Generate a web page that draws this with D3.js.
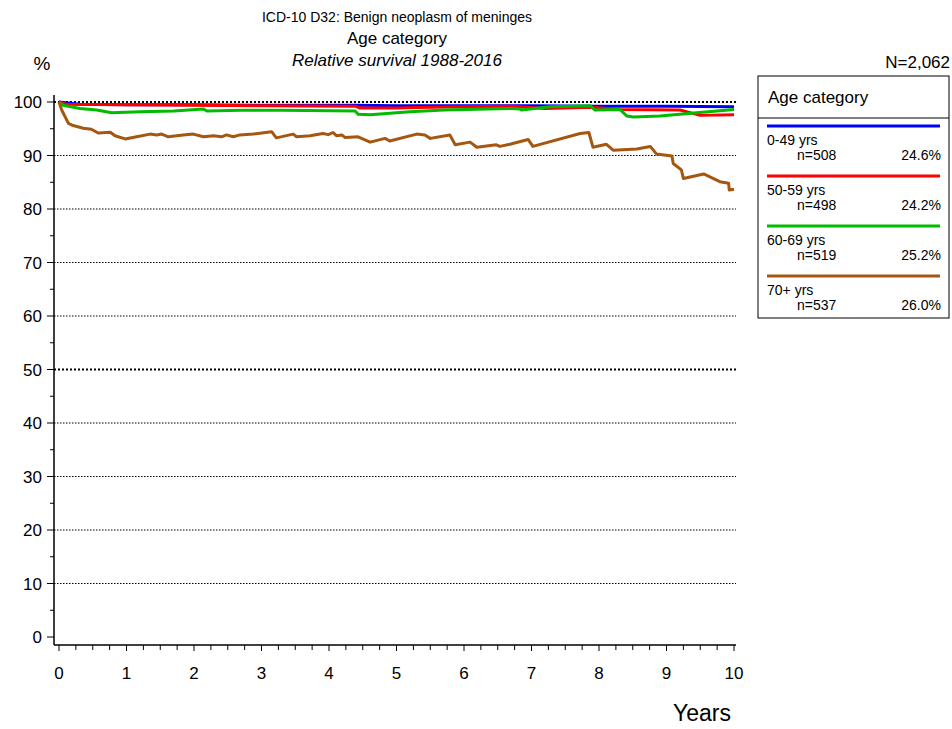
<!DOCTYPE html>
<html>
<head>
<meta charset="utf-8">
<script src="https://cdn.jsdelivr.net/npm/d3@7"></script>
<style>
  body { margin: 0; background: #fff; }
  text { font-family: "Liberation Sans", Arial, sans-serif; fill: #000; }
</style>
</head>
<body>
<script>
// age groups and legend info
var groups = ["0-49 yrs", "50-59 yrs", "60-69 yrs", "70+ yrs"];
var counts = ["n=508", "n=498", "n=519", "n=537"];
var shares = ["24.6%", "24.2%", "25.2%", "26.0%"];
var colors = ["#0000ff", "#ff0000", "#00bb00", "#a5560f"];

// relative survival, [years, %]
var surv049 = [[0,100],[0.3,99.6],[1,99.5],[2,99.5],[3,99.4],[4.4,99.4],[5,99.3],[6,99.3],[7,99.3],[8,99.2],[9,99.2],[10,99.1]];
var surv5059 = [[0,100],[0.1,99.6],[1,99.5],[2,99.4],[3,99.3],[4.4,99.2],[4.45,98.9],[5,98.9],[5.5,99.0],[6,99.1],[6.7,99.2],
  [7.2,98.8],[7.9,99.0],[8.3,98.6],[9.2,98.5],[9.5,97.5],[10,97.6]];
var surv6069 = [[0,100],[0.06,99.4],[0.31,98.8],[0.56,98.5],[0.78,98.0],[1.2,98.2],[1.7,98.3],[2.14,98.7],[2.19,98.3],[2.7,98.45],
  [3.3,98.45],[4.39,98.3],[4.43,97.7],[4.61,97.6],[5.2,98.2],[5.7,98.5],[6.7,98.8],[6.83,98.7],[6.85,98.5],[7.27,99.1],
  [7.87,99.3],[7.94,98.5],[8.31,98.6],[8.41,97.4],[8.51,97.2],[8.9,97.4],[10,98.6]];
var surv70 = [[0,100],[0.04,98.5],[0.14,96.0],[0.21,95.6],[0.36,95.1],[0.48,94.9],[0.58,94.2],[0.76,94.35],[0.83,93.7],[0.98,93.1],
  [1.15,93.5],[1.35,94.0],[1.45,93.85],[1.52,94.0],[1.62,93.5],[1.84,93.85],[1.99,94.0],[2.14,93.5],[2.29,93.7],[2.41,93.5],
  [2.48,93.85],[2.58,93.5],[2.68,93.85],[2.88,94.0],[3.15,94.45],[3.22,93.3],[3.47,94.0],[3.52,93.5],[3.72,93.7],[3.91,94.1],
  [3.99,93.9],[4.06,94.3],[4.11,93.7],[4.19,93.85],[4.24,93.35],[4.43,93.5],[4.61,92.5],[4.83,93.2],[4.90,92.7],[5.30,94.0],
  [5.42,93.85],[5.50,93.2],[5.79,93.85],[5.87,92.0],[6.09,92.5],[6.19,91.55],[6.48,92.0],[6.53,91.7],[6.68,92.1],[6.95,93.0],
  [7.02,91.7],[7.72,94.1],[7.85,94.3],[7.91,91.55],[8.11,92.1],[8.21,91.0],[8.56,91.2],[8.76,91.7],[8.85,90.3],[9.08,89.9],
  [9.10,88.5],[9.22,87.3],[9.25,85.7],[9.55,86.55],[9.79,85.1],[9.92,84.8],[9.93,83.55],[10,83.7]];
var series = [surv049, surv5059, surv6069, surv70];

var yTicks = [0, 10, 20, 30, 40, 50, 60, 70, 80, 90, 100];
var xTicks = [0, 1, 2, 3, 4, 5, 6, 7, 8, 9, 10];

var width = 952, height = 729;

var svg = d3.select("body").append("svg")
    .attr("width", width)
    .attr("height", height);

var x = d3.scaleLinear().domain([0, 10]).range([59, 734]);
var y = d3.scaleLinear().domain([0, 100]).range([637, 102]);
var axisX = 54, axisY = 645;

// titles
svg.append("text").attr("x", 397).attr("y", 22).attr("text-anchor", "middle")
    .style("font-size", "14px").text("ICD-10 D32: Benign neoplasm of meninges");
svg.append("text").attr("x", 397).attr("y", 44).attr("text-anchor", "middle")
    .style("font-size", "17px").text("Age category");
svg.append("text").attr("x", 397).attr("y", 66).attr("text-anchor", "middle")
    .style("font-size", "17px").style("font-style", "italic").text("Relative survival 1988-2016");
svg.append("text").attr("x", 42).attr("y", 70).attr("text-anchor", "middle")
    .style("font-size", "19px").text("%");
svg.append("text").attr("x", 950).attr("y", 68).attr("text-anchor", "end")
    .style("font-size", "17px").text("N=2,062");

// gridlines
svg.append("g").selectAll("line")
    .data(yTicks.filter(function(d) { return d > 0; }))
    .enter().append("line")
    .attr("x1", axisX).attr("x2", x(10) + 2)
    .attr("y1", function(d) { return y(d); })
    .attr("y2", function(d) { return y(d); })
    .attr("stroke", "#000")
    .attr("stroke-width", function(d) { return (d === 50 || d === 100) ? 2 : 1; })
    .attr("stroke-dasharray", function(d) { return (d === 50 || d === 100) ? "2,2" : "1.5,1.5"; });

// y axis
svg.append("line").attr("x1", axisX).attr("x2", axisX).attr("y1", 95).attr("y2", axisY)
    .attr("stroke", "#000").attr("stroke-width", 1.5);
svg.append("g").selectAll("line")
    .data(d3.range(0, 101, 5))
    .enter().append("line")
    .attr("x1", function(d) { return d % 10 === 0 ? axisX - 7 : axisX - 4; })
    .attr("x2", axisX)
    .attr("y1", function(d) { return y(d); })
    .attr("y2", function(d) { return y(d); })
    .attr("stroke", "#000");
svg.append("g").selectAll("text")
    .data(yTicks)
    .enter().append("text")
    .attr("x", 42).attr("y", function(d) { return y(d) + 6; })
    .attr("text-anchor", "end")
    .style("font-size", "17px")
    .text(function(d) { return d; });

// x axis
svg.append("line").attr("x1", axisX).attr("x2", x(10) + 2).attr("y1", axisY).attr("y2", axisY)
    .attr("stroke", "#000").attr("stroke-width", 1.5);
svg.append("g").selectAll("line")
    .data(d3.range(0, 40.5, 1))
    .enter().append("line")
    .attr("x1", function(d) { return x(d / 4); })
    .attr("x2", function(d) { return x(d / 4); })
    .attr("y1", axisY)
    .attr("y2", function(d) { return d % 4 === 0 ? axisY + 6 : axisY + 5; })
    .attr("stroke", "#000");
svg.append("g").selectAll("text")
    .data(xTicks)
    .enter().append("text")
    .attr("x", function(d) { return x(d); }).attr("y", 679)
    .attr("text-anchor", "middle")
    .style("font-size", "17px")
    .text(function(d) { return d; });
svg.append("text").attr("x", 702).attr("y", 721).attr("text-anchor", "middle")
    .style("font-size", "23px").text("Years");

// survival curves
var line = d3.line()
    .x(function(d) { return x(d[0]); })
    .y(function(d) { return y(d[1]); });

svg.append("g").selectAll("path")
    .data(series)
    .enter().append("path")
    .attr("d", line)
    .attr("fill", "none")
    .attr("stroke", function(d, i) { return colors[i]; })
    .attr("stroke-width", 3)
    .attr("stroke-linejoin", "round");

// legend
var legend = svg.append("g");
legend.append("rect").attr("x", 758).attr("y", 76).attr("width", 191).attr("height", 242)
    .attr("fill", "#fff").attr("stroke", "#000").attr("stroke-width", 1);
legend.append("line").attr("x1", 758).attr("x2", 949).attr("y1", 118).attr("y2", 118)
    .attr("stroke", "#000");
legend.append("text").attr("x", 768).attr("y", 103).style("font-size", "17px").text("Age category");

var item = legend.selectAll(".item")
    .data(groups)
    .enter().append("g")
    .attr("class", "item")
    .attr("transform", function(d, i) { return "translate(0," + (126 + i * 50) + ")"; });
item.append("line")
    .attr("x1", 767).attr("x2", 940).attr("y1", 0).attr("y2", 0)
    .attr("stroke", function(d, i) { return colors[i]; })
    .attr("stroke-width", 3);
item.append("text").attr("x", 767).attr("y", 19).style("font-size", "14px")
    .text(function(d) { return d; });
item.append("text").attr("x", 797).attr("y", 34).style("font-size", "14px")
    .text(function(d, i) { return counts[i]; });
item.append("text").attr("x", 941).attr("y", 34).attr("text-anchor", "end").style("font-size", "14px")
    .text(function(d, i) { return shares[i]; });
</script>
</body>
</html>
